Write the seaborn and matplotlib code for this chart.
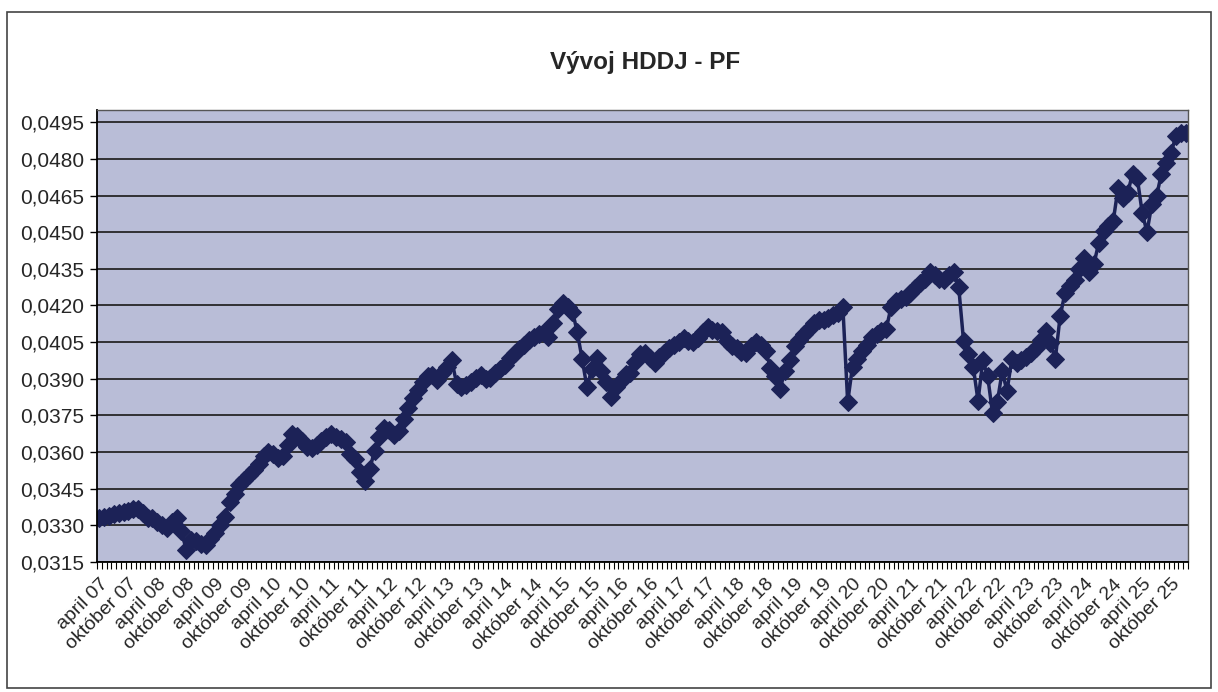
import matplotlib
matplotlib.use("Agg")
import matplotlib.pyplot as plt
from matplotlib.patches import Rectangle
import seaborn as sns
import numpy as np
import pandas as pd

# mesacne hodnoty HDDJ, april 2007 - januar 2026
hodnoty_2007 = [0.03330, 0.03335, 0.03340, 0.03345, 0.03350, 0.03353, 0.03358, 0.03365, 0.03368]
hodnoty_2008 = [0.03350, 0.03332, 0.03328, 0.03315, 0.03300, 0.03290, 0.03315, 0.03330, 0.03275, 0.03200, 0.03240, 0.03235]
hodnoty_2009 = [0.03225, 0.03220, 0.03245, 0.03270, 0.03300, 0.03335, 0.03395, 0.03430, 0.03465, 0.03485, 0.03505, 0.03525]
hodnoty_2010 = [0.03550, 0.03585, 0.03600, 0.03590, 0.03575, 0.03585, 0.03630, 0.03675, 0.03665, 0.03645, 0.03620, 0.03615]
hodnoty_2011 = [0.03630, 0.03645, 0.03660, 0.03675, 0.03660, 0.03655, 0.03640, 0.03590, 0.03570, 0.03520, 0.03480, 0.03530]
hodnoty_2012 = [0.03605, 0.03660, 0.03700, 0.03690, 0.03670, 0.03685, 0.03735, 0.03780, 0.03820, 0.03855, 0.03885, 0.03910]
hodnoty_2013 = [0.03915, 0.03895, 0.03925, 0.03950, 0.03975, 0.03880, 0.03865, 0.03875, 0.03885, 0.03905, 0.03915, 0.03900]
hodnoty_2014 = [0.03905, 0.03925, 0.03940, 0.03955, 0.03985, 0.04005, 0.04020, 0.04040, 0.04060, 0.04070, 0.04085, 0.04090]
hodnoty_2015 = [0.04070, 0.04130, 0.04185, 0.04210, 0.04195, 0.04175, 0.04090, 0.03980, 0.03865, 0.03940, 0.03985, 0.03930]
hodnoty_2016 = [0.03885, 0.03825, 0.03865, 0.03890, 0.03920, 0.03925, 0.03970, 0.04000, 0.04005, 0.03985, 0.03965, 0.03990]
hodnoty_2017 = [0.04005, 0.04025, 0.04040, 0.04050, 0.04065, 0.04055, 0.04050, 0.04065, 0.04090, 0.04110, 0.04100, 0.04095]
hodnoty_2018 = [0.04090, 0.04055, 0.04035, 0.04025, 0.04010, 0.04005, 0.04035, 0.04050, 0.04040, 0.04015, 0.03945, 0.03910]
hodnoty_2019 = [0.03860, 0.03930, 0.03975, 0.04035, 0.04060, 0.04085, 0.04105, 0.04130, 0.04140, 0.04140, 0.04150, 0.04160]
hodnoty_2020 = [0.04170, 0.04195, 0.03805, 0.03950, 0.03980, 0.04015, 0.04040, 0.04070, 0.04085, 0.04095, 0.04105, 0.04195]
hodnoty_2021 = [0.04220, 0.04225, 0.04235, 0.04250, 0.04270, 0.04290, 0.04310, 0.04335, 0.04325, 0.04310, 0.04305, 0.04325]
hodnoty_2022 = [0.04335, 0.04275, 0.04055, 0.04000, 0.03950, 0.03810, 0.03975, 0.03910, 0.03760, 0.03805, 0.03930, 0.03850]
hodnoty_2023 = [0.03980, 0.03965, 0.03975, 0.03990, 0.04005, 0.04025, 0.04060, 0.04095, 0.04045, 0.03980, 0.04155, 0.04250]
hodnoty_2024 = [0.04280, 0.04305, 0.04350, 0.04395, 0.04335, 0.04370, 0.04455, 0.04505, 0.04525, 0.04545, 0.04680, 0.04640]
hodnoty_2025 = [0.04660, 0.04740, 0.04720, 0.04580, 0.04500, 0.04615, 0.04650, 0.04740, 0.04785, 0.04825, 0.04895, 0.04905]
hodnoty_2026 = [0.04905]

popisky = ["april 07", "október 07", "april 08", "október 08", "april 09", "október 09",
           "april 10", "október 10", "april 11", "október 11", "april 12", "október 12",
           "april 13", "október 13", "april 14", "október 14", "april 15", "október 15",
           "april 16", "október 16", "april 17", "október 17", "april 18", "október 18",
           "april 19", "október 19", "april 20", "október 20", "april 21", "október 21",
           "april 22", "október 22", "april 23", "október 23", "april 24", "október 24",
           "april 25", "október 25"]

hodnoty = (hodnoty_2007 + hodnoty_2008 + hodnoty_2009 + hodnoty_2010 + hodnoty_2011
           + hodnoty_2012 + hodnoty_2013 + hodnoty_2014 + hodnoty_2015 + hodnoty_2016
           + hodnoty_2017 + hodnoty_2018 + hodnoty_2019 + hodnoty_2020 + hodnoty_2021
           + hodnoty_2022 + hodnoty_2023 + hodnoty_2024 + hodnoty_2025 + hodnoty_2026)
df = pd.DataFrame({"mesiac": np.arange(len(hodnoty)), "hddj": hodnoty})

sns.set_style("white")
plt.rcParams["font.family"] = ["Liberation Sans", "DejaVu Sans"]

fig = plt.figure(figsize=(12.18, 6.92), dpi=100)
fig.patch.set_facecolor("white")
# ramik grafu
fig.add_artist(Rectangle((0.006, 0.006), 0.988, 0.977, transform=fig.transFigure,
                         fill=False, edgecolor="#444444", lw=1.2))
fig.text(0.53, 0.91, "Vývoj HDDJ - PF", ha="center", va="center",
         fontsize=17.5, weight="bold")

ax = fig.add_axes([0.0796, 0.1879, 0.8958, 0.6531])
ax.set_facecolor("#B9BDD7")

ax.yaxis.grid(True, color="#262626", lw=1.3)
ax.set_axisbelow(True)

sns.lineplot(data=df, x="mesiac", y="hddj", ax=ax, color="#1C2257", lw=2.5,
             marker="D", markersize=9, markeredgecolor="#1C2257")

n = len(hodnoty)
ax.set_xlim(-0.5, n - 0.5)
ax.set_ylim(0.0315, 0.0500)

yt = np.arange(0.0315, 0.04951, 0.0015)
ax.set_yticks(yt, [f"{v:.4f}".replace(".", ",") for v in yt])
ax.tick_params(axis="y", length=5, width=1, color="black", labelsize=15, pad=4, left=True)

# drobne znacky medzi mesiacmi, popisky kazdych 6 mesiacov
ax.set_xticks(np.arange(-0.5, n, 1.0))
ax.set_xticklabels([])
ax.set_xticks(np.arange(0, 6 * len(popisky), 6), popisky, minor=True,
              rotation=45, ha="right", rotation_mode="anchor", fontsize=14)
ax.tick_params(axis="x", which="major", length=5, width=0.8, color="black", bottom=True)
ax.tick_params(axis="x", which="minor", length=0, pad=10)

ax.set_xlabel("")
ax.set_ylabel("")
for s in ["left", "bottom"]:
    ax.spines[s].set_color("black")
    ax.spines[s].set_linewidth(1.3)
for s in ["top", "right"]:
    ax.spines[s].set_color("#555555")
    ax.spines[s].set_linewidth(1.0)

fig.savefig("out.png", dpi=100)
